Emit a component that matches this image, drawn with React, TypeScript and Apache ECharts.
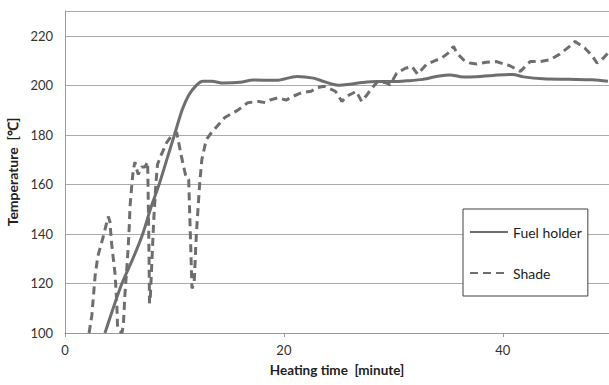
import React, { useEffect, useRef } from "react";
import * as echarts from "echarts";

const xTicks = [0, 20, 40];
const yTicks = [100, 120, 140, 160, 180, 200, 220];

const fuelTime = [3.65, 4.4, 5.2, 6.2, 7.1, 7.8, 8.6, 9.3, 10.0, 10.7, 11.3, 12.0, 12.6, 13.4, 14.5, 16.0, 17.2, 19.3, 21.2, 22.7, 23.6, 24.3, 25.1, 26.0, 27.2, 28.5, 30.0, 31.2, 32.7, 34.2, 35.2, 36.1, 37.0, 39.1, 40.9, 41.9, 43.7, 46.1, 48.2, 49.6];
const fuelTemp = [100, 110, 120, 130, 140, 150, 160, 170, 180, 190, 196, 200, 201.6, 201.6, 200.9, 201.2, 202.1, 202, 203.6, 202.9, 201.6, 200.6, 200, 200.4, 201.1, 201.5, 201.5, 201.8, 202.4, 203.8, 204.2, 203.5, 203.4, 204, 204.4, 203.4, 202.6, 202.4, 202.2, 201.6];

const shadeTime = [2.2, 2.45, 2.75, 3.0, 3.5, 3.95, 4.1, 4.26, 4.57, 4.72, 4.8, 4.95, 5.2, 5.33, 5.48, 5.63, 5.78, 5.87, 5.94, 6.09, 6.24, 6.39, 6.55, 6.7, 7.0, 7.3, 7.55, 7.62, 7.68, 7.72, 7.8, 7.95, 8.1, 8.3, 8.45, 8.8, 9.3, 9.8, 10.2, 10.65, 11.05, 11.3, 11.45, 11.6, 11.8, 12.0, 12.3, 12.5, 12.9, 13.4, 14.0, 14.6, 15.4, 15.8, 16.7, 17.7, 18.3, 18.7, 19.5, 20.2, 20.8, 21.6, 22.5, 23.0, 23.7, 24.7, 25.3, 25.7, 26.2, 26.6, 27.1, 27.6, 27.9, 28.6, 29.4, 29.7, 30.3, 31.1, 31.7, 32.2, 33.0, 33.6, 34.4, 35.0, 35.5, 35.8, 36.4, 37.0, 37.6, 38.5, 39.4, 40.3, 40.6, 41.6, 42.5, 43.4, 44.3, 45.2, 46.1, 46.6, 47.5, 48.2, 48.6, 49.2, 49.6];
const shadeTemp = [100, 107, 123, 131, 139, 147, 145, 136, 124, 113, 103, 101, 100, 103, 116, 125, 135, 143, 151, 159, 166, 169, 166, 164, 167, 167, 169, 150, 130, 112, 115, 130, 145, 160, 168, 172, 177, 180, 181, 171, 163, 162, 140, 118, 120, 140, 160, 170, 178, 181, 184, 187, 189, 190, 193, 193.5, 193, 194, 195, 194, 195.5, 197, 197.6, 199, 199.6, 197.6, 193.5, 195.5, 196.6, 197.6, 193.5, 196.2, 198.2, 201.6, 200.9, 200.2, 204.9, 206.9, 207.6, 204.5, 208.3, 209.6, 211, 213, 215.7, 213, 210.3, 209, 208.6, 209.3, 209.6, 208.3, 208, 205.6, 209.6, 209.6, 210.3, 212.6, 215.7, 217.7, 215, 211.7, 209, 211, 213];

const seriesNames = ["Fuel holder", "Shade"];

export default function App() {
  const ref = useRef<HTMLDivElement>(null);
  useEffect(() => {
    if (!ref.current) return;
    const chart = echarts.init(ref.current, undefined, { renderer: "svg" });
    const lineColor = "#6e6e6e";
    chart.setOption({
      animation: false,
      backgroundColor: "#ffffff",
      grid: { left: 65, top: 11, right: 0, bottom: 52, outerBoundsMode: "none", containLabel: false },
      legend: {
        orient: "vertical",
        left: 463,
        top: 209,
        itemWidth: 38,
        itemHeight: 14,
        itemGap: 27,
        padding: [16, 6, 16, 6],
        borderColor: "#404040",
        borderWidth: 1,
        backgroundColor: "#ffffff",
        itemStyle: { opacity: 0 },
        textStyle: { fontFamily: "Lato", fontSize: 14, color: "#222222" },
        data: seriesNames,
      },
      xAxis: {
        type: "value",
        min: 0,
        max: 49.7,
        interval: 20,
        name: "Heating time  [minute]",
        nameLocation: "middle",
        nameGap: 30,
        nameTextStyle: { fontFamily: "Lato", fontWeight: "bold", fontSize: 13.5, color: "#222222" },
        axisLine: { show: true, lineStyle: { color: "#9a9a9a", width: 1 } },
        axisTick: { show: true, length: 4, lineStyle: { color: "#9a9a9a" } },
        axisLabel: {
          fontFamily: "Lato",
          fontSize: 13,
          color: "#333333",
          margin: 10,
          showMaxLabel: false,
          formatter: (v: number) => (xTicks.includes(v) ? String(v) : ""),
        },
        splitLine: { show: false },
      },
      yAxis: {
        type: "value",
        min: 100,
        max: 230,
        interval: 20,
        name: "Temperature  [℃]",
        nameLocation: "middle",
        nameGap: 42,
        nameTextStyle: { fontFamily: "Lato", fontWeight: "bold", fontSize: 14, color: "#222222" },
        axisLine: { show: true, lineStyle: { color: "#9a9a9a", width: 1 } },
        axisTick: { show: false },
        axisLabel: {
          fontFamily: "Lato",
          fontSize: 13,
          color: "#333333",
          margin: 12,
          showMaxLabel: false,
          formatter: (v: number) => (yTicks.includes(v) ? String(v) : ""),
        },
        splitLine: { show: true, lineStyle: { color: "#ababab", width: 1 } },
      },
      series: [
        {
          name: seriesNames[0],
          type: "line",
          symbol: "none",
          smooth: 0.3,
          data: fuelTime.map((t, i) => [t, fuelTemp[i]]),
          lineStyle: { color: lineColor, width: 3 },
          itemStyle: { color: lineColor },
        },
        {
          name: seriesNames[1],
          type: "line",
          symbol: "none",
          data: shadeTime.map((t, i) => [t, shadeTemp[i]]),
          lineStyle: { color: lineColor, width: 3, type: [8, 5] },
          itemStyle: { color: lineColor },
        },
      ],
    });
    return () => chart.dispose();
  }, []);
  return (
    <div
      ref={ref}
      style={{ position: "fixed", left: 0, top: 0, width: 609, height: 385 }}
    />
  );
}
